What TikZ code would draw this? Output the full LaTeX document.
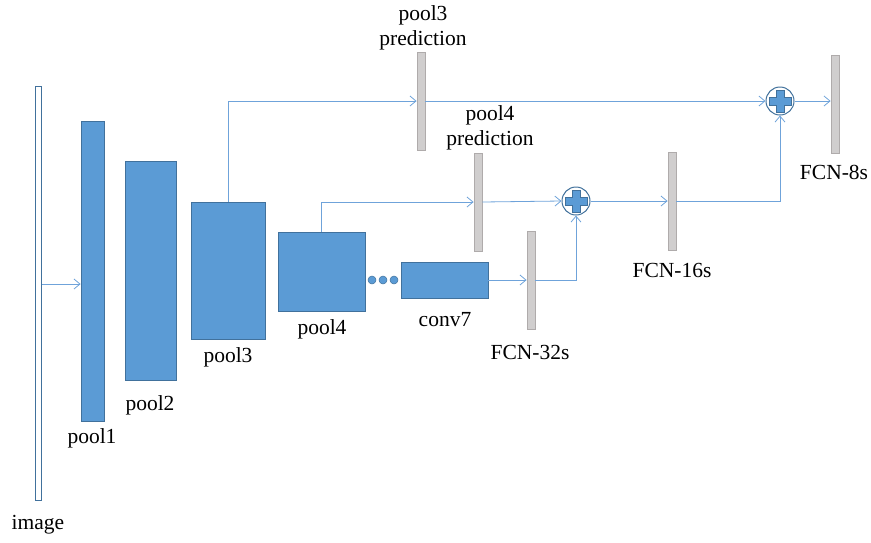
\documentclass[tikz,border=0pt]{standalone}
\usepackage{fontspec}
\setmainfont{Liberation Serif}
\usetikzlibrary{arrows.meta}

\definecolor{layerblue}{HTML}{5B9BD5}
\definecolor{edgeblue}{HTML}{41719C}
\definecolor{lineblue}{HTML}{6FA3DA}
\definecolor{bargray}{HTML}{D0CECE}
\definecolor{baredge}{HTML}{AFABAB}

\tikzset{
  layer/.style={draw=edgeblue, fill=layerblue, line width=0.8pt, inner sep=0pt},
  score/.style={draw=baredge, fill=bargray, line width=0.8pt, inner sep=0pt,
    minimum width=8pt, minimum height=98pt},
  sumnode/.style={circle, draw=edgeblue, fill=white, line width=1pt, minimum size=28pt,
    inner sep=0pt, path picture={
      \begin{scope}[shift={(path picture bounding box.center)}]
        \filldraw[fill=layerblue, draw=edgeblue, line width=0.8pt]
          (-4,-11) -- (4,-11) -- (4,-4) -- (11,-4) -- (11,4) -- (4,4)
          -- (4,11) -- (-4,11) -- (-4,4) -- (-11,4) -- (-11,-4) -- (-4,-4) -- cycle;
      \end{scope}}},
  flow/.style={draw=lineblue, line width=0.8pt, -{Straight Barb[length=6pt,width=10pt]}},
  lbl/.style={inner sep=0pt, align=center}
}

\begin{document}
\begin{tikzpicture}[x=1pt, y=-1pt, font=\fontsize{21.5}{25}\selectfont]
  \useasboundingbox (0,0) rectangle (871,542);

  % input and encoder
  \node[draw=edgeblue, fill=white, line width=1pt, inner sep=0pt,
    minimum width=6pt, minimum height=414pt] (image) at (38,293) {};
  \node[layer, minimum width=23pt, minimum height=300pt] (pool1) at (92.5,271) {};
  \node[layer, minimum width=51pt, minimum height=219pt] (pool2) at (150.5,270.5) {};
  \node[layer, minimum width=74pt, minimum height=137pt] (pool3) at (228,270.5) {};
  \node[layer, minimum width=87pt, minimum height=79pt] (pool4) at (321.5,271.5) {};
  \foreach \i/\x in {1/372,2/383,3/394}
    \node[circle, fill=layerblue, draw=edgeblue, line width=0.5pt, minimum size=8pt,
      inner sep=0pt] (dot\i) at (\x,280) {};
  \node[layer, minimum width=87pt, minimum height=36pt] (conv7) at (444.5,280) {};

  % score maps
  \node[score] (p3pred) at (421,101) {};
  \node[score] (p4pred) at (478,202) {};
  \node[score] (fcn32) at (531,280) {};
  \node[score] (fcn16) at (672,201) {};
  \node[score] (fcn8) at (835,104) {};

  \node[sumnode] (sum16) at (576,201) {};
  \node[sumnode] (sum8) at (780,101) {};

  % connections
  \coordinate (imgout) at ([yshift=9pt]image.east);
  \draw[flow] (imgout) -- (imgout -| pool1.west);
  \draw[flow] (pool3.north) |- (p3pred.west);
  \draw[flow] (p3pred.east) -- (sum8.west);
  \draw[flow] (pool4.north) |- (p4pred.west);
  \draw[flow] (p4pred.east) -- (sum16.west);
  \draw[flow] (conv7.east) -- (fcn32.west);
  \draw[flow] (fcn32.east) -| (sum16.south);
  \draw[flow] (sum16.east) -- (fcn16.west);
  \draw[flow] (fcn16.east) -| (sum8.south);
  \draw[flow] (sum8.east) -- (sum8.east -| fcn8.west);

  % labels
  \node[lbl] (limage) at (38,525) {image};
  \node[lbl] (lpool1) at (92,438) {pool1};
  \node[lbl] (lpool2) at (150,405) {pool2};
  \node[lbl] (lpool3) at (228,357) {pool3};
  \node[lbl] (lpool4) at (322,329) {pool4};
  \node[lbl] (lconv7) at (445,320) {conv7};
  \node[lbl] (lfcn32) at (530,352) {FCN-32s};
  \node[lbl] (lp4pred) at (490,128) {pool4\\prediction};
  \node[lbl] (lp3pred) at (423,28) {pool3\\prediction};
  \node[lbl] (lfcn16) at (672,270) {FCN-16s};
  \node[lbl] (lfcn8) at (834,172) {FCN-8s};
\end{tikzpicture}
\end{document}
